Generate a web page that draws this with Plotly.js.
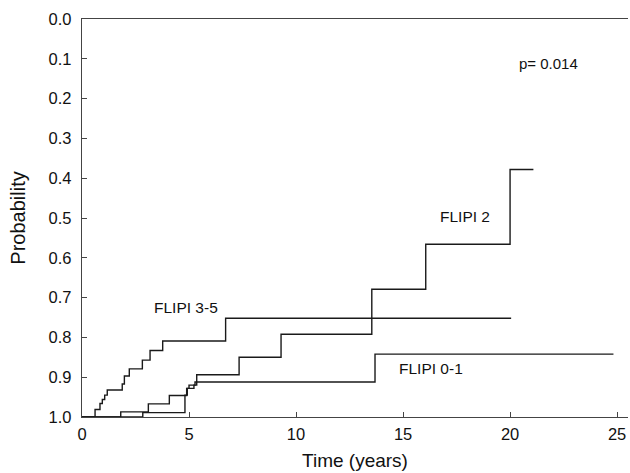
<!DOCTYPE html>
<html>
<head>
<meta charset="utf-8">
<script src="https://cdn.plot.ly/plotly-3.0.1.min.js"></script>
<style>html,body{margin:0;padding:0;background:#fff;}#chart{width:630px;height:473px;}</style>
</head>
<body>
<div id="chart"></div>
<script>
// FLIPI 3-5
var flipi35Time = [0, 0.61, 0.84, 0.95, 1.06, 1.18, 1.88, 1.98, 2.21, 2.82, 3.18, 3.77, 6.71, 20.05];
var flipi35Prob = [1.0, 0.981, 0.966, 0.956, 0.945, 0.932, 0.917, 0.897, 0.879, 0.857, 0.833, 0.809, 0.752, 0.752];
// FLIPI 2
var flipi2Time = [0, 1.81, 3.10, 4.08, 4.89, 5.00, 5.36, 7.34, 9.30, 13.54, 16.06, 20.0, 21.09];
var flipi2Prob = [1.0, 0.987, 0.967, 0.946, 0.928, 0.920, 0.894, 0.850, 0.792, 0.679, 0.566, 0.378, 0.378];
// FLIPI 0-1
var flipi01Time = [0, 2.84, 4.81, 4.92, 5.23, 5.28, 13.69, 24.83];
var flipi01Prob = [1.0, 0.989, 0.945, 0.928, 0.920, 0.912, 0.842, 0.842];

var yTicks = [0.0, 0.1, 0.2, 0.3, 0.4, 0.5, 0.6, 0.7, 0.8, 0.9, 1.0];
var yTickLabels = ["0.0", "0.1", "0.2", "0.3", "0.4", "0.5", "0.6", "0.7", "0.8", "0.9", "1.0"];
var xTicks = [0, 5, 10, 15, 20, 25];

var lineStyle = {color: '#1a1a1a', width: 1.4, shape: 'hv'};
var traces = [
  {x: flipi35Time, y: flipi35Prob, mode: 'lines', line: lineStyle, name: 'FLIPI 3-5'},
  {x: flipi2Time, y: flipi2Prob, mode: 'lines', line: lineStyle, name: 'FLIPI 2'},
  {x: flipi01Time, y: flipi01Prob, mode: 'lines', line: lineStyle, name: 'FLIPI 0-1'}
];

var fontFam = 'Liberation Sans, Arial, sans-serif';
var layout = {
  width: 630, height: 473,
  margin: {l: 82, r: 2, t: 19, b: 56},
  paper_bgcolor: '#fff', plot_bgcolor: '#fff',
  showlegend: false,
  font: {family: fontFam, color: '#111', size: 16},
  xaxis: {
    range: [0, 25.51], tickvals: xTicks, ticks: 'inside', ticklen: 5, tickcolor: '#444',
    showline: true, linecolor: '#444', linewidth: 1.3, mirror: true,
    showgrid: false, zeroline: false,
    tickfont: {size: 16.5, color: '#111'}, ticklabelstandoff: 2,
    title: {text: 'Time (years)', font: {size: 19, color: '#111'}, standoff: 11}
  },
  yaxis: {
    range: [1.0, 0.0], tickvals: yTicks, ticktext: yTickLabels, ticks: 'inside', ticklen: 5, tickcolor: '#444',
    showline: true, linecolor: '#444', linewidth: 1.3,
    showgrid: false, zeroline: false,
    tickfont: {size: 16.5, color: '#111'}, ticklabelstandoff: 6,
    title: {text: 'Probability', font: {size: 20, color: '#111'}, standoff: 17}
  },
  annotations: [
    {x: 4.85, y: 0.724, xref: 'x', yref: 'y', text: 'FLIPI 3-5', showarrow: false, font: {size: 15.5, color: '#111'}},
    {x: 17.9, y: 0.495, xref: 'x', yref: 'y', text: 'FLIPI 2', showarrow: false, font: {size: 15.5, color: '#111'}},
    {x: 16.3, y: 0.877, xref: 'x', yref: 'y', text: 'FLIPI 0-1', showarrow: false, font: {size: 15.5, color: '#111'}},
    {x: 21.8, y: 0.113, xref: 'x', yref: 'y', text: 'p= 0.014', showarrow: false, font: {size: 15, color: '#111'}}
  ]
};

Plotly.newPlot('chart', traces, layout, {displayModeBar: false, staticPlot: true});
</script>
</body>
</html>
